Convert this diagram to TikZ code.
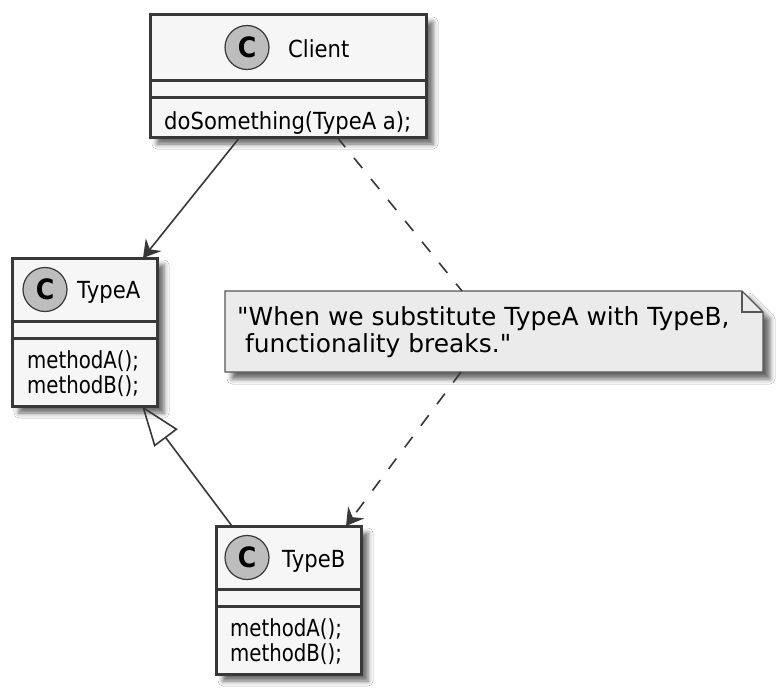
\documentclass[tikz,border=0pt]{standalone}
\usepackage{fontspec}
\setmainfont{DejaVu Sans}[FakeStretch=0.9]
\newfontfamily\notefont{DejaVu Sans}
\newfontfamily\methfont{DejaVu Sans}[FakeStretch=0.84]
\usetikzlibrary{arrows.meta,shadows.blur,calc}
\definecolor{boxfill}{HTML}{F6F6F6}
\definecolor{boxline}{HTML}{383838}
\definecolor{notefill}{HTML}{EBEBEB}
\definecolor{noteline}{HTML}{555555}
\definecolor{circfill}{HTML}{BDBDBD}
\newcommand{\clsfont}{\fontsize{23.5}{28}\selectfont}
\newcommand{\mthfont}{\methfont\fontsize{23.5}{28}\selectfont}
\newcommand{\ntfont}{\notefont\fontsize{24.9}{28}\selectfont}
\begin{document}
\begin{tikzpicture}[x=1pt,y=-1pt,
  myshadow/.style={blur shadow={shadow xshift=7pt, shadow yshift=-7pt, shadow blur radius=5pt, shadow opacity=60}},
  classbox/.style={draw=boxline, fill=boxfill, line width=3pt, minimum width=145pt, minimum height=148pt, anchor=north west, outer sep=0pt, inner sep=0pt, myshadow},
  divider/.style={draw=boxline, line width=3pt},
  circ/.style={circle, minimum size=44pt, inner sep=0pt, fill=circfill, draw=boxline, line width=1.2pt, font=\fontsize{28}{28}\selectfont\bfseries},
  txt/.style={anchor=base west, inner sep=0pt, font=\clsfont},
  mtxt/.style={anchor=base west, inner sep=0pt, font=\mthfont},
  ntxt/.style={anchor=base west, inner sep=0pt, font=\ntfont},
  conn/.style={draw=boxline, line width=1.6pt},
  tip/.style={-{Stealth[length=17pt, width=20pt, inset=6pt]}},
  assoc/.style={conn, tip},
  dep/.style={conn, dash pattern=on 13pt off 14pt},
  inherit/.style={conn, -{Triangle[open, length=40pt, width=29pt]}},
  notebody/.style={fill=notefill, draw=noteline, line width=1.3pt, myshadow}]
\useasboundingbox (0,0) rectangle (784,693);
\fill[white] (0,0) rectangle (784,693);

% Client
\node[classbox, minimum width=276pt, minimum height=122pt] (client) at (150,15) {};
\draw[divider] ($(client.north west)+(0,65)$) -- ($(client.north east)+(0,65)$);
\draw[divider] ($(client.north west)+(0,82)$) -- ($(client.north east)+(0,82)$);
\node[circ] (clientC) at ($(client.north west)+(97,32.5)$) {C};
\node[txt] (clientname) at (288,57) {Client};
\node[txt] (clientm1) at (164,129) {doSomething(TypeA a);};

% TypeA
\node[classbox] (typeA) at (12,258) {};
\draw[divider] ($(typeA.north west)+(0,63)$) -- ($(typeA.north east)+(0,63)$);
\draw[divider] ($(typeA.north west)+(0,80)$) -- ($(typeA.north east)+(0,80)$);
\node[circ] (typeAC) at ($(typeA.north west)+(33,31.5)$) {C};
\node[txt] (typeAname) at (77,298) {TypeA};
\node[mtxt] (typeAm1) at (27,368) {methodA();};
\node[mtxt] (typeAm2) at (27,393) {methodB();};

% TypeB
\node[classbox] (typeB) at (216,526) {};
\draw[divider] ($(typeB.north west)+(0,63)$) -- ($(typeB.north east)+(0,63)$);
\draw[divider] ($(typeB.north west)+(0,80)$) -- ($(typeB.north east)+(0,80)$);
\node[circ] (typeBC) at ($(typeB.north west)+(31,31.5)$) {C};
\node[txt] (typeBname) at (282,567) {TypeB};
\node[mtxt] (typeBm1) at (230,636) {methodA();};
\node[mtxt] (typeBm2) at (230,661) {methodB();};

% Note
\node[minimum width=538pt, minimum height=81pt, anchor=north west, inner sep=0pt, outer sep=0pt] (note) at (225,291) {};
\path[notebody] (note.north west) -- ($(note.north east)+(-21,0)$) -- ($(note.north east)+(0,21)$) -- (note.south east) -- (note.south west) -- cycle;
\draw[draw=noteline, line width=1.3pt] ($(note.north east)+(-21,0)$) -- ($(note.north east)+(-21,21)$) -- ($(note.north east)+(0,21)$);
\node[ntxt] (notel1) at (237,325) {"When we substitute TypeA with TypeB,};
\node[ntxt] (notel2) at (237,352) {\ functionality breaks."};

% Connectors
\draw[assoc] ($(client.south west)+(90,0)$) -- ($(typeA.north west)+(131,0)$);
\draw[dep] ($(client.south west)+(187,0)$) -- ($(note.north west)+(237,0)$);
\draw[dep, tip] ($(note.south west)+(236,0)$) -- ($(typeB.north west)+(130,0)$);
\draw[inherit] ($(typeB.north west)+(16,0)$) -- ($(typeA.south west)+(130,0)$);
\end{tikzpicture}
\end{document}
